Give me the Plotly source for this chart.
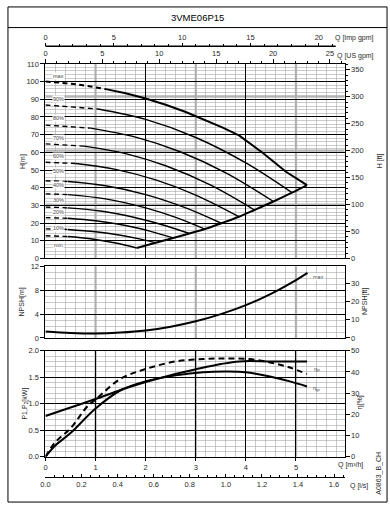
import plotly.graph_objects as go

# ---------------- data ----------------
TITLE = "3VME06P15"
CURVE_NAMES = ["max", "90%", "80%", "70%", "60%", "50%", "40%", "30%", "20%", "10%", "min"]

# H-Q curves  (Q in m3/h, H in m)
Q_MAX = [0, 0.6, 1.23, 1.6, 2.0, 2.4, 2.8, 3.2, 3.55, 3.87, 4.34, 4.8, 5.22]
H_MAX = [100, 98.5, 95.6, 93.4, 90.4, 86.9, 82.8, 78.2, 73.8, 69.4, 59.6, 49.0, 41.5]
Q_90 = [0, 1.05, 2.0, 3.0, 4.0, 4.92]
H_90 = [86.8, 84.5, 78.6, 68.4, 54.0, 37.2]
Q_80 = [0, 0.9, 1.8, 2.7, 3.6, 4.55]
H_80 = [75.4, 73.7, 68.6, 60.2, 48.4, 32.2]
Q_70 = [0, 0.77, 1.6, 2.4, 3.3, 4.17]
H_70 = [64.8, 63.5, 59.3, 52.4, 41.4, 27.4]
Q_60 = [0, 0.6, 1.4, 2.2, 3.0, 3.86]
H_60 = [54.4, 53.7, 50.4, 44.4, 35.8, 23.6]
Q_50 = [0, 0.45, 1.2, 2.0, 2.8, 3.51]
H_50 = [43.9, 43.5, 41.1, 36.1, 28.6, 19.9]
Q_40 = [0, 0.45, 1.2, 2.0, 2.6, 3.18]
H_40 = [36.5, 36.1, 33.7, 28.6, 23.2, 16.6]
Q_30 = [0, 0.45, 1.1, 1.8, 2.4, 2.87]
H_30 = [29.0, 28.6, 26.8, 23.0, 18.5, 14.1]
Q_20 = [0, 0.45, 1.0, 1.6, 2.1, 2.55]
H_20 = [23.1, 22.7, 21.3, 18.6, 15.3, 11.6]
Q_10 = [0, 0.45, 1.0, 1.5, 1.9, 2.2]
H_10 = [16.7, 16.4, 15.1, 13.1, 10.9, 8.9]
Q_MIN = [0, 0.45, 0.9, 1.4, 1.82]
H_MIN = [12.8, 12.4, 11.1, 8.7, 5.9]
DASH_END_Q = [1.23, 1.05, 0.9, 0.77, 0.6, 0.45, 0.45, 0.45, 0.45, 0.45, 0.45]

# lower-right limit line
Q_ENV = [1.82, 2.2, 2.55, 2.87, 3.18, 3.51, 3.86, 4.17, 4.55, 4.92, 5.22]
H_ENV = [5.9, 8.9, 11.6, 14.1, 16.6, 19.9, 23.6, 27.4, 32.2, 37.2, 41.5]

# NPSH (m)
Q_NPSH = [0, 0.5, 1, 1.5, 2, 2.5, 3, 3.5, 4, 4.5, 5, 5.23]
NPSH = [1.1, 0.85, 0.75, 0.9, 1.25, 1.9, 2.8, 4.0, 5.5, 7.4, 9.7, 10.9]

# input power P1 (kW)
Q_P1 = [0, 0.5, 1, 1.5, 2, 2.5, 3, 3.5, 3.87, 4.5, 5.22]
P1 = [0.77, 0.93, 1.09, 1.26, 1.41, 1.54, 1.65, 1.75, 1.80, 1.80, 1.80]

# efficiencies (%)
Q_ETA_P = [0, 0.18, 0.5, 0.83, 1.0, 1.5, 2.0, 2.6, 3.15, 3.6, 4.07, 4.48, 4.86, 5.22]
ETA_P = [0, 6.5, 13.5, 23.6, 27.0, 36.8, 41.4, 45.0, 46.1, 46.4, 46.1, 44.5, 42.2, 39.1]
Q_ETA_GR = [0, 0.18, 0.5, 1.0, 1.5, 2.0, 2.6, 3.15, 3.6, 4.0, 4.48, 4.86, 5.22]
ETA_GR = [0, 5.0, 11.2, 22.8, 31.4, 35.6, 38.4, 39.9, 40.2, 39.9, 37.9, 35.7, 33.2]

# ---------------- unit conversions / axis ranges ----------------
M_TO_FT = 3.28084
M3H_TO_USGPM = 4.402868
M3H_TO_IMPGPM = 3.666154
M3H_TO_LS = 1 / 3.6
Q_MAX_AXIS = 5.97
H_RANGE = [0, 110]
NPSH_RANGE = [0, 12]
P_RANGE = [0, 2]
ETA_RANGE = [0, 50]

# ---------------- layout geometry (pixels) ----------------
W, HGT = 390, 510
def fx(px):
    return px / W
def fy(py):
    return 1 - py / HGT

XD = [fx(41), fx(344)]
Y_H = [fy(259), fy(61)]
Y_N = [fy(340), fy(267)]
Y_P = [fy(461), fy(353)]

FONT = "Liberation Sans Narrow, Liberation Sans, Arial, sans-serif"
TXT = "#2a2a2a"
MINOR_GRID = "#a9a9a9"
GRAY_THICK = "#b4b4b4"

fig = go.Figure()

H_CURVES = [(Q_MAX, H_MAX), (Q_90, H_90), (Q_80, H_80), (Q_70, H_70), (Q_60, H_60),
            (Q_50, H_50), (Q_40, H_40), (Q_30, H_30), (Q_20, H_20), (Q_10, H_10),
            (Q_MIN, H_MIN)]

for i, ((qs, hs), qd) in enumerate(zip(H_CURVES, DASH_END_Q)):
    nd = len([q for q in qs if q <= qd])
    dq, dh = qs[:nd], hs[:nd]
    sq, sh = qs[nd - 1:], hs[nd - 1:]
    w = 2.0 if i == 0 else 1.4
    fig.add_trace(go.Scatter(x=dq, y=dh, mode="lines", xaxis="x", yaxis="y",
                             line=dict(color="black", width=w, dash="5px,3.5px", shape="spline"),
                             hoverinfo="skip"))
    fig.add_trace(go.Scatter(x=sq, y=sh, mode="lines", xaxis="x", yaxis="y",
                             line=dict(color="black", width=w,
                                       shape="linear" if i == 0 else "spline"),
                             hoverinfo="skip"))

fig.add_trace(go.Scatter(x=Q_ENV, y=H_ENV, mode="lines", xaxis="x", yaxis="y",
                         line=dict(color="black", width=2, shape="spline"), hoverinfo="skip"))

fig.add_trace(go.Scatter(x=Q_NPSH, y=NPSH, mode="lines", xaxis="x2", yaxis="y3",
                         line=dict(color="black", width=2, shape="spline"), hoverinfo="skip"))

fig.add_trace(go.Scatter(x=Q_P1, y=P1, mode="lines", xaxis="x3", yaxis="y5",
                         line=dict(color="black", width=2, shape="spline"), hoverinfo="skip"))
fig.add_trace(go.Scatter(x=Q_ETA_P, y=ETA_P, mode="lines", xaxis="x3", yaxis="y6",
                         line=dict(color="black", width=2, dash="6px,4px", shape="spline"),
                         hoverinfo="skip"))
fig.add_trace(go.Scatter(x=Q_ETA_GR, y=ETA_GR, mode="lines", xaxis="x3", yaxis="y6",
                         line=dict(color="black", width=2, shape="spline"), hoverinfo="skip"))

# dummy traces so the secondary axes exist
for xa, ya in [("x", "y2"), ("x2", "y4"), ("x4", "y"), ("x5", "y"), ("x6", "y5")]:
    fig.add_trace(go.Scatter(x=[None], y=[None], xaxis=xa, yaxis=ya, showlegend=False,
                             hoverinfo="skip"))

tickfont = dict(family=FONT, size=7.5, color=TXT)

def xmain(anchor, labels=False):
    d = dict(domain=XD, range=[0, Q_MAX_AXIS], anchor=anchor, showline=True, mirror=True,
             linecolor="black", linewidth=1, zeroline=False, showgrid=True, dtick=2, tick0=0,
             gridcolor="black", gridwidth=1,
             minor=dict(dtick=0.2, tick0=0, showgrid=True, gridcolor=MINOR_GRID, gridwidth=0.6),
             showticklabels=labels, tickfont=tickfont)
    if labels:
        d.update(ticks="outside", ticklen=3, tickcolor="black", tickvals=[0, 1, 2, 3, 4, 5])
    else:
        d.update(ticks="")
    return d

def ymain(domain, anchor, rng, dtick, minor, fmt=None):
    d = dict(domain=domain, anchor=anchor, range=rng, dtick=dtick, tick0=0, showline=True,
             mirror=True, linecolor="black", linewidth=1, zeroline=False, showgrid=True,
             gridcolor="black", gridwidth=1, ticks="outside", ticklen=4, tickcolor="black",
             tickfont=tickfont,
             minor=dict(dtick=minor, tick0=0, showgrid=True, gridcolor=MINOR_GRID, gridwidth=0.6))
    if fmt:
        d["tickformat"] = fmt
    return d

def yright(over, anchor, rng, dtick, minor=None):
    d = dict(overlaying=over, anchor=anchor, side="right", range=rng, dtick=dtick, tick0=0,
             showgrid=False, zeroline=False, showline=False, ticks="outside", ticklen=4,
             tickcolor="black", tickfont=tickfont)
    if minor:
        d["minor"] = dict(dtick=minor, tick0=0, ticks="outside", ticklen=2, tickcolor="black",
                          showgrid=False)
    return d

fig.update_layout(
    width=W, height=HGT, margin=dict(l=0, r=0, t=0, b=0),
    paper_bgcolor="white", plot_bgcolor="rgba(0,0,0,0)", showlegend=False,
    font=dict(family=FONT, size=7.5, color=TXT),
    xaxis=xmain("y"),
    xaxis2=xmain("y3"),
    xaxis3=xmain("y5", labels=True),
    yaxis=ymain(Y_H, "x", H_RANGE, 10, 2),
    yaxis2=yright("y", "x", [H_RANGE[0] * M_TO_FT, H_RANGE[1] * M_TO_FT], 50, 10),
    yaxis3=ymain(Y_N, "x2", NPSH_RANGE, 4, 1),
    yaxis4=yright("y3", "x2", [NPSH_RANGE[0] * M_TO_FT, NPSH_RANGE[1] * M_TO_FT], 10),
    yaxis5=ymain(Y_P, "x3", P_RANGE, 0.5, 0.1, ".1f"),
    yaxis6=yright("y5", "x3", ETA_RANGE, 10),
    xaxis4=dict(overlaying="x", anchor="y", side="top", range=[0, Q_MAX_AXIS * M3H_TO_USGPM],
                dtick=5, tick0=0, showgrid=False, zeroline=False, showline=False,
                ticks="outside", ticklen=4, tickcolor="black", tickfont=tickfont,
                minor=dict(dtick=1, tick0=0, ticks="outside", ticklen=2, tickcolor="black")),
    xaxis5=dict(overlaying="x", anchor="free", position=fy(43), side="top",
                range=[0, Q_MAX_AXIS * M3H_TO_IMPGPM], dtick=5, tick0=0, showgrid=False,
                zeroline=False, showline=False, ticks="outside", ticklen=3, tickcolor="black",
                tickfont=tickfont,
                minor=dict(dtick=1, tick0=0, ticks="outside", ticklen=2, tickcolor="black")),
    xaxis6=dict(overlaying="x3", anchor="free", position=fy(481.7), side="bottom",
                range=[0, Q_MAX_AXIS * M3H_TO_LS], dtick=0.2, tick0=0, tickformat=".1f",
                showgrid=False, zeroline=False, showline=True, linecolor="black", linewidth=1.2,
                ticks="inside", ticklen=3, tickcolor="black", tickfont=tickfont,
                minor=dict(dtick=0.05, tick0=0, ticks="inside", ticklen=2, tickcolor="black")),
)

shapes = []
# frame and title separator
shapes.append(dict(type="rect", xref="paper", yref="paper", x0=fx(3), x1=fx(387),
                   y0=fy(507), y1=fy(3), line=dict(color="black", width=1)))
shapes.append(dict(type="line", xref="paper", yref="paper", x0=fx(3), x1=fx(387),
                   y0=fy(24), y1=fy(24), line=dict(color="black", width=1)))
# Imp gpm axis line
shapes.append(dict(type="line", xref="paper", yref="paper", x0=fx(41), x1=fx(335),
                   y0=fy(43), y1=fy(43), line=dict(color="black", width=1.5)))
# thicker grey grid lines (drawn under the grid)
GRAY_Q = [1, 3, 5]
PANELS = [Y_H, Y_N, Y_P]
for dom in PANELS:
    for q in GRAY_Q:
        shapes.append(dict(type="line", xref="x", yref="paper", x0=q, x1=q, y0=dom[0], y1=dom[1],
                           layer="below", line=dict(color=GRAY_THICK, width=2.2)))
GRAY_FT = [100, 200, 300]
for f in GRAY_FT:
    shapes.append(dict(type="line", xref="paper", yref="y2", x0=XD[0], x1=XD[1], y0=f, y1=f,
                       layer="below", line=dict(color=GRAY_THICK, width=2.2)))
fig.update_layout(shapes=shapes)

ann = []
def text(x, y, s, size=7.5, angle=0, xanchor="center", xref="paper", yref="paper",
         bg=None, color=TXT):
    d = dict(x=x, y=y, xref=xref, yref=yref, text=s, showarrow=False, textangle=angle,
             xanchor=xanchor, yanchor="middle", font=dict(family=FONT, size=size, color=color))
    if bg:
        d.update(bgcolor=bg, borderpad=0)
    ann.append(d)

text(fx(195), fy(14), TITLE, size=9.5, color="black")
text(fx(332), fy(35), "Q [Imp gpm]", size=7, xanchor="left")
text(fx(334), fy(53), "Q [US gpm]", size=7, xanchor="left")
text(fx(335), fy(469), "Q [m³/h]", size=7, xanchor="left")
text(fx(347), fy(491), "Q [l/s]", size=7, xanchor="left")
text(fx(18), fy(160), "H[m]", size=7, angle=-90)
text(fx(380), fy(160), "H [ft]", size=7, angle=-90)
text(fx(17), fy(303), "NPSH[m]", size=7, angle=-90)
text(fx(364), fy(303), "NPSH[ft]", size=7, angle=-90)
text(fx(20), fy(407), "P1,P<sub>2</sub>[kW]", size=7, angle=-90)
text(fx(359), fy(405), "η[%]", size=7, angle=-90)
text(fx(378), fy(478), "A0863_B_CH", size=7, angle=-90)

LABEL_H = [103.2, 90.2, 79.4, 68.3, 58.2, 49.4, 41.5, 32.8, 26.3, 17.4, 7.8]
for name, yv in zip(CURVE_NAMES, LABEL_H):
    text(0.26, yv, name, size=5.5, xref="x", yref="y", bg="white", color="#444")
text(5.44, 10.2, "max", size=5.5, xref="x2", yref="y3", bg="white", color="#444")
text(5.42, 41.0, "η<sub>P</sub>", size=6, xref="x3", yref="y6", color="#444")
text(5.42, 32.0, "η<sub>gr</sub>", size=6, xref="x3", yref="y6", color="#444")
fig.update_layout(annotations=ann)

fig.write_html("out.html",
               config={"displayModeBar": False, "staticPlot": True},
               post_script="document.body.style.margin='0';"
                           "document.documentElement.style.overflow='hidden';")
